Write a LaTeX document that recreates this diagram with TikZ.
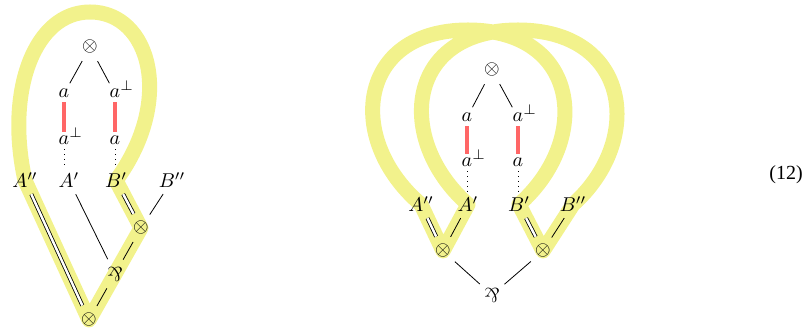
\documentclass[tikz,border=0pt]{standalone}
\usepackage{fontspec}
\newfontfamily\eqfont{Liberation Serif}
\usepackage{mathtools}
\usepackage{graphicx}
\usetikzlibrary{backgrounds}
\definecolor{hlyellow}{RGB}{242,242,140}
\definecolor{axred}{RGB}{255,102,102}
\newcommand{\parrsym}{\rotatebox[origin=c]{180}{\&}}
\newcommand{\aperp}{a\mathrlap{^{\smash{\perp}}}}
\begin{document}
\begin{tikzpicture}[x=0.5pt,y=-0.5pt,
  lbl/.style={inner sep=2pt, anchor=base},
  op/.style={circle, inner sep=1.2pt},
  edge/.style={shorten <=1pt, shorten >=1pt},
  dbl/.style={edge, double, double distance=1.2pt},
  axiom/.style={axred, line width=1.8pt},
  hl/.style={hlyellow, line width=7.5pt, line join=round, line cap=round}]
\useasboundingbox (0,0) rectangle (807,330);

% ---------- left diagram ----------
\node[op]  (Lt)   at (90,47)   {$\otimes$};
\node[lbl] (La1)  at (64,98)   {$a$};
\node[lbl] (Lb1)  at (115,98)  {$\aperp$};
\node[lbl] (La2)  at (64,145)  {$\aperp$};
\node[lbl] (Lb2)  at (115,145) {$a$};
\node[lbl] (LApp) at (25,188)  {$A''$};
\node[lbl] (LAp)  at (69,188)  {$A'$};
\node[lbl] (LBp)  at (116,188) {$B'$};
\node[lbl] (LBpp) at (172,188) {$B''$};
\node[op]  (Lr)   at (141,228) {$\otimes$};
\node[op]  (Lpar) at (115,274) {\parrsym};
\node[op]  (Lb)   at (89,320)  {$\otimes$};

\draw[edge] (Lt) -- (La1);
\draw[edge] (Lt) -- (Lb1);
\draw[axiom] (La1.south) -- (La2.north);
\draw[axiom] (Lb1.south) -- (Lb2.north);
\draw[dotted] (La2.south) -- (La2.south |- LAp.north);
\draw[dotted] (Lb2.south) -- (Lb2.south |- LBp.north);
\draw[dbl]  (LApp) -- (Lb);
\draw[edge] (LAp) -- (Lpar);
\draw[dbl]  (LBp) -- (Lr);
\draw[edge] (LBpp) -- (Lr);
\draw[edge] (Lr) -- (Lpar);
\draw[edge] (Lpar) -- (Lb);

% ---------- right diagram ----------
\node[op]  (Rt)   at (492,70)  {$\otimes$};
\node[lbl] (Ra1)  at (467,122) {$a$};
\node[lbl] (Rb1)  at (518,122) {$\aperp$};
\node[lbl] (Ra2)  at (467,167) {$\aperp$};
\node[lbl] (Rb2)  at (518,167) {$a$};
\node[lbl] (RApp) at (421,212) {$A''$};
\node[lbl] (RAp)  at (468,212) {$A'$};
\node[lbl] (RBp)  at (519,212) {$B'$};
\node[lbl] (RBpp) at (573,212) {$B''$};
\node[op]  (Rl)   at (443,251) {$\otimes$};
\node[op]  (Rr)   at (543,251) {$\otimes$};
\node[op]  (Rpar) at (492,295) {\parrsym};

\draw[edge] (Rt) -- (Ra1);
\draw[edge] (Rt) -- (Rb1);
\draw[axiom] (Ra1.south) -- (Ra2.north);
\draw[axiom] (Rb1.south) -- (Rb2.north);
\draw[dotted] (Ra2.south) -- (Ra2.south |- RAp.north);
\draw[dotted] (Rb2.south) -- (Rb2.south |- RBp.north);
\draw[dbl]  (RApp) -- (Rl);
\draw[edge] (RAp) -- (Rl);
\draw[dbl]  (RBp) -- (Rr);
\draw[edge] (RBpp) -- (Rr);
\draw[edge] (Rl) -- (Rpar);
\draw[edge] (Rr) -- (Rpar);

\node[anchor=base] (eqno) at (786,179.5) {\eqfont (12)};

% ---------- highlights ----------
\begin{pgfonlayer}{background}
\draw[hl] (Lb.center) -- (LApp.center)
   .. controls (5,90) and (35,12) .. (90,12)
   .. controls (150,12) and (175,100) .. (LBp.center)
   -- (Lr.center) -- (Lpar.center) -- (Lb.center) -- cycle;
\draw[hl] (Rl.center) -- (RApp.center)
   .. controls (345,140) and (357,30) .. (468,30)
   .. controls (580,30) and (592,140) .. (RBp.center)
   -- (Rr.center) -- (RBpp.center)
   .. controls (645,140) and (630,30) .. (518,30)
   .. controls (405,30) and (395,140) .. (RAp.center)
   -- (Rl.center) -- cycle;
\end{pgfonlayer}
\end{tikzpicture}
\end{document}
